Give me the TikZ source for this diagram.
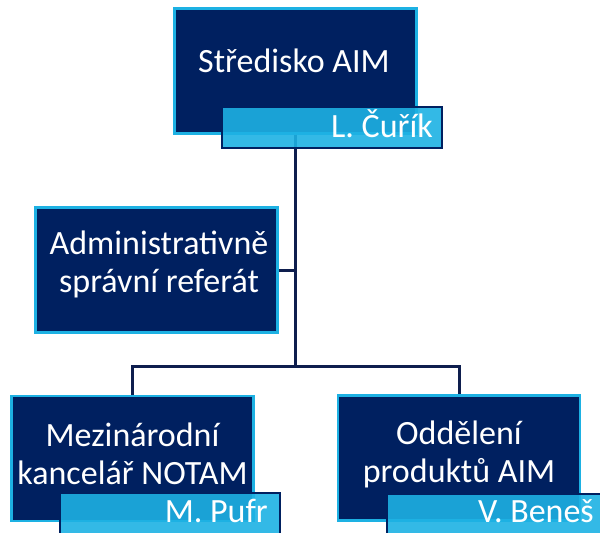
\documentclass[tikz,border=0pt]{standalone}
\usepackage{fontspec}
\setmainfont{Carlito}
\definecolor{aimnavy}{HTML}{002060}
\definecolor{aimsky}{HTML}{1DB1E3}
\definecolor{aimline}{HTML}{0E1E4E}
\tikzset{
  unit/.style={draw=aimsky, fill=aimnavy, line width=2.5pt, minimum width=242pt, minimum height=125pt, inner sep=0pt},
  tag/.style={draw=aimnavy, fill=aimsky, fill opacity=0.9, line width=2pt, minimum width=220pt, minimum height=41pt, inner sep=0pt},
  title/.style={text=white, font=\fontsize{34}{38}\selectfont, align=center},
  who/.style={text=white, font=\fontsize{34}{38}\selectfont, anchor=base east, inner sep=0pt},
  link/.style={draw=aimline, line width=3pt}
}
\begin{document}
\begin{tikzpicture}[x=1pt,y=-1pt]
\clip (0,0) rectangle (600,533);
% boxes
\node[unit] (aim) at (295.5,71) {};
\node[unit] (admin) at (156.5,270) {};
\node[unit] (notam) at (132.5,458.5) {};
\node[unit] (produkty) at (459,458) {};
% connectors
\coordinate (split) at (295.5,366);
\draw[link] (aim.south) -- (split);
\draw[link] (notam.north) |- (split) -| (produkty.north);
\draw[link] (admin.east) -- (admin.east -| split);
% name tags
\node[tag] (aimtag) at (332,127.5) {};
\node[tag] (notamtag) at (169.5,513.5) {};
\node[tag] (produktytag) at (497,514.5) {};
% texts
\node[title, anchor=base] (aimtitle) at (294,72) {Středisko AIM};
\node[title] (admintitle) at (159,264) {Administrativně\\správní referát};
\node[title] (notamtitle) at (132.5,454) {Mezinárodní\\kancelář NOTAM};
\node[title] (produktytitle) at (459,454) {Oddělení\\produktů AIM};
\node[who] (aimwho) at (433,137) {L. Čuřík};
\node[who] (notamwho) at (268,522) {M. Pufr};
\node[who] (produktywho) at (594,522) {V. Beneš};
\end{tikzpicture}
\end{document}
